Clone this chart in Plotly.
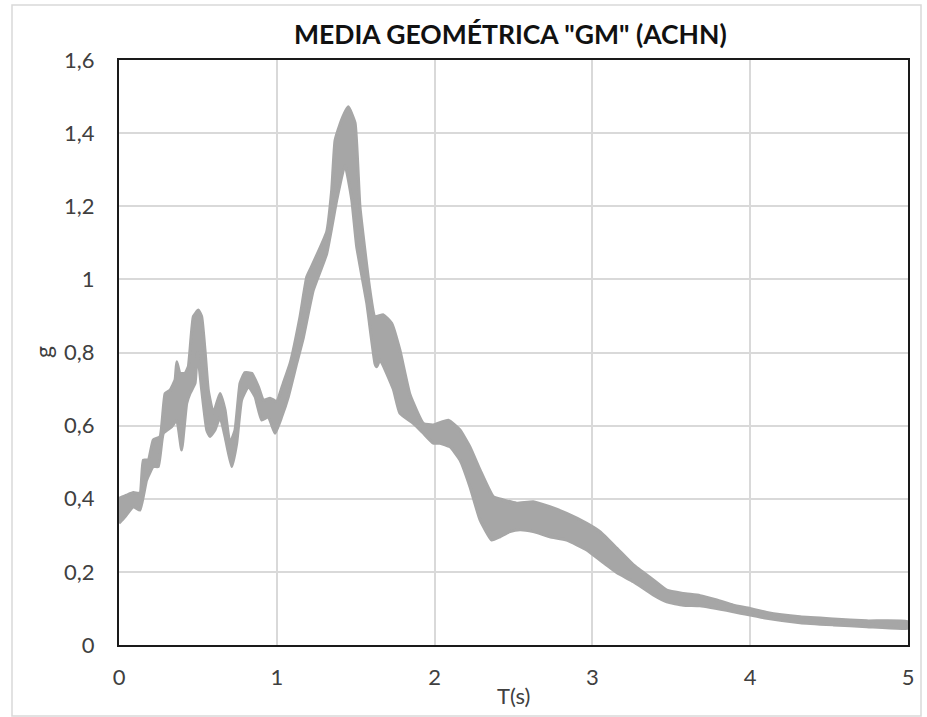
import plotly.graph_objects as go

# ---- data ----
upper_T = [0, 0.049, 0.091, 0.133, 0.154, 0.186, 0.217, 0.26, 0.292, 0.323, 0.355, 0.366, 0.387, 0.418,
           0.439, 0.471, 0.503, 0.524, 0.545, 0.566, 0.598, 0.64, 0.672, 0.703, 0.735, 0.767, 0.798, 0.841,
           0.883, 0.915, 0.957, 0.999, 1.041, 1.084, 1.147, 1.19, 1.22, 1.316, 1.348, 1.369, 1.41, 1.453,
           1.496, 1.527, 1.59, 1.622, 1.675, 1.728, 1.78, 1.844, 1.929, 1.992, 2.087, 2.161, 2.224, 2.288,
           2.372, 2.435, 2.52, 2.625, 2.73, 2.837, 2.964, 3.048, 3.154, 3.26, 3.386, 3.471, 3.576, 3.682,
           3.788, 3.893, 3.999, 4.105, 4.316, 4.527, 4.738, 5.0]
upper_g = [0.401, 0.41, 0.417, 0.415, 0.506, 0.506, 0.561, 0.57, 0.688, 0.697, 0.725, 0.775, 0.743, 0.743,
           0.761, 0.898, 0.916, 0.898, 0.807, 0.697, 0.634, 0.688, 0.643, 0.552, 0.588, 0.716, 0.745, 0.743,
           0.707, 0.67, 0.675, 0.666, 0.716, 0.77, 0.898, 1.007, 1.035, 1.13, 1.245, 1.38, 1.436, 1.472,
           1.428, 1.199, 0.971, 0.898, 0.903, 0.88, 0.807, 0.685, 0.606, 0.602, 0.615, 0.588, 0.542, 0.479,
           0.406, 0.397, 0.388, 0.392, 0.378, 0.36, 0.333, 0.31, 0.265, 0.219, 0.178, 0.15, 0.141, 0.135,
           0.123, 0.109, 0.10, 0.089, 0.077, 0.071, 0.066, 0.064]

lower_T = [0, 0.038, 0.091, 0.133, 0.175, 0.217, 0.249, 0.281, 0.334, 0.366, 0.397, 0.429, 0.45, 0.482,
           0.497, 0.524, 0.556, 0.577, 0.608, 0.64, 0.672, 0.714, 0.746, 0.777, 0.82, 0.862, 0.904, 0.946,
           0.989, 1.031, 1.073, 1.126, 1.168, 1.231, 1.316, 1.38, 1.432, 1.475, 1.506, 1.57, 1.622, 1.633,
           1.654, 1.738, 1.78, 1.865, 1.929, 1.992, 2.034, 2.098, 2.161, 2.224, 2.288, 2.362, 2.414, 2.478,
           2.541, 2.625, 2.73, 2.837, 2.964, 3.048, 3.154, 3.26, 3.386, 3.471, 3.576, 3.682, 3.893, 4.105,
           4.316, 4.527, 4.738, 5.0]
lower_g = [0.333, 0.351, 0.378, 0.369, 0.451, 0.488, 0.488, 0.579, 0.597, 0.615, 0.533, 0.661, 0.688, 0.716,
           0.80, 0.697, 0.588, 0.57, 0.588, 0.624, 0.57, 0.488, 0.552, 0.67, 0.707, 0.679, 0.615, 0.624,
           0.579, 0.624, 0.679, 0.77, 0.84, 0.97, 1.07, 1.217, 1.313, 1.217, 1.09, 0.935, 0.77, 0.761,
           0.78, 0.70, 0.634, 0.606, 0.579, 0.552, 0.552, 0.542, 0.506, 0.433, 0.342, 0.287, 0.296, 0.31,
           0.315, 0.31, 0.296, 0.287, 0.26, 0.232, 0.198, 0.173, 0.137, 0.118, 0.109, 0.107, 0.091, 0.073,
           0.061, 0.055, 0.05, 0.046]

x_ticks = [0, 1, 2, 3, 4, 5]
y_ticks = [0, 0.2, 0.4, 0.6, 0.8, 1.0, 1.2, 1.4, 1.6]

title_text = 'MEDIA GEOMÉTRICA "GM" (ACHN)'
x_title = "T(s)"
y_title = "g"

# ---- figure ----
W, H = 927, 717
ML, MR, MT, MB = 119, 19, 60, 72
PW, PH = W - ML - MR, H - MT - MB

def px2paper_x(px):
    return (px - ML) / PW

def px2paper_y(py):
    return (H - MB - py) / PH

band_color = "#a6a6a6"
font_family = "Lato, 'Open Sans', sans-serif"

fig = go.Figure()
fig.add_trace(go.Scatter(
    x=upper_T + lower_T[::-1],
    y=upper_g + lower_g[::-1],
    mode="lines",
    fill="toself",
    fillcolor=band_color,
    line=dict(color=band_color, width=3, shape="spline", smoothing=0.4),
    hoverinfo="skip",
    showlegend=False,
    cliponaxis=True,
))

axis_common = dict(
    showgrid=True, gridcolor="#d9d9d9", gridwidth=1.5,
    showline=True, linecolor="#1a1a1a", linewidth=2, mirror=True,
    zeroline=False, ticks="",
    tickfont=dict(family=font_family, size=22, color="#404040"),
)

fig.update_layout(
    width=W, height=H,
    margin=dict(l=ML, r=MR, t=MT, b=MB, pad=0),
    paper_bgcolor="white", plot_bgcolor="white",
    separators=", ",
    showlegend=False,
    xaxis=dict(range=[0, 5], tickvals=x_ticks, ticklabelstandoff=12, **axis_common),
    yaxis=dict(range=[0, 1.6], tickvals=y_ticks, ticklabelstandoff=18, **axis_common),
    annotations=[
        dict(text=f"<b>{title_text}</b>", xref="paper", yref="paper",
             x=px2paper_x(510), y=px2paper_y(34), xanchor="center", yanchor="middle",
             showarrow=False, font=dict(family=font_family, size=26.5, color="#111111")),
        dict(text=x_title, xref="paper", yref="paper",
             x=px2paper_x(513), y=px2paper_y(695), xanchor="center", yanchor="middle",
             showarrow=False, font=dict(family=font_family, size=22, color="#404040")),
        dict(text=y_title, xref="paper", yref="paper", textangle=-90,
             x=px2paper_x(43), y=px2paper_y(352), xanchor="center", yanchor="middle",
             showarrow=False, font=dict(family=font_family, size=23, color="#404040")),
    ],
    shapes=[
        dict(type="rect", xref="paper", yref="paper",
             x0=px2paper_x(12), x1=px2paper_x(921), y0=px2paper_y(716), y1=px2paper_y(5),
             line=dict(color="#d9d9d9", width=1.5), fillcolor="rgba(0,0,0,0)", layer="below"),
    ],
)

fig.write_html("out.html")
